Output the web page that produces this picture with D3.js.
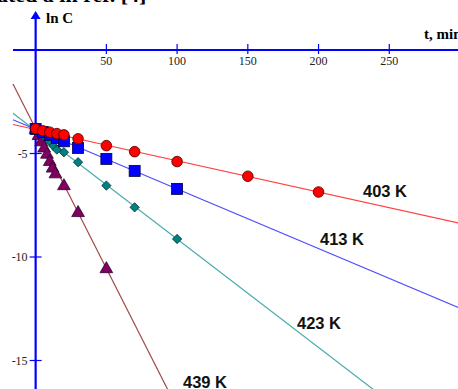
<!DOCTYPE html>
<html>
<head>
<meta charset="utf-8">
<script src="https://cdn.jsdelivr.net/npm/d3@7"></script>
<style>
  body { margin: 0; background: #fff; }
  svg { display: block; }
</style>
</head>
<body>
<div id="chart"></div>
<script>
var width = 458;
var height = 389;

// data
const series = ["403 K", "413 K", "423 K", "439 K"];

const t403 = [0, 5, 10, 15, 20, 30, 50, 70, 100, 150, 200];
const lnC403 = [-3.8, -3.9, -3.97, -4.04, -4.1, -4.29, -4.62, -4.91, -5.39, -6.1, -6.86];

const t413 = [0, 5, 10, 15, 20, 30, 50, 70, 100];
const lnC413 = [-3.82, -3.96, -4.1, -4.25, -4.41, -4.73, -5.26, -5.84, -6.71];

const t423 = [0, 2.5, 5, 7.5, 10, 12.5, 15, 20, 30, 50, 70, 100];
const lnC423 = [-3.85, -3.92, -4.07, -4.26, -4.42, -4.63, -4.81, -4.94, -5.42, -6.55, -7.6, -9.13];

const t439 = [0, 2, 4, 6, 8, 10, 12, 14, 20, 30, 50];
const lnC439 = [-3.85, -4.15, -4.45, -4.75, -5.05, -5.4, -5.72, -6.0, -6.57, -7.87, -10.58];

// fitted straight lines: ln C = a + b t
const fitA = [-3.84, -3.83, -3.89, -3.8];
const fitB = [-0.0151, -0.0288, -0.0524, -0.135];

const xTicks = [50, 100, 150, 200, 250];
const yTicks = [-5, -10, -15];

var svg = d3.select("#chart")
  .append("svg")
  .attr("width", width)
  .attr("height", height)

const x = d3.scaleLinear().domain([-16, 300]).range([13, 460]);
const y = d3.scaleLinear().domain([0, -15]).range([50, 360.5]);

const axisColor = "#0000ff";
const lineColors = ["#ff4040", "#4d4dff", "#4aabab", "#a04848"];
const markFill = ["#ff0000", "#0000ff", "#008080", "#800060"];

// caption fragment cut at the top
svg.append("text")
  .attr("x", -3)
  .attr("y", 2)
  .style("font-family", "Liberation Serif, serif")
  .style("font-size", "22px")
  .style("font-weight", "bold")
  .style("fill", "#000")
  .text("ated a in ref. [4]")

// fitted lines
const tLine = [-16, 300];
lineColors.forEach(function (c, i) {
  svg.append("line")
    .attr("x1", x(tLine[0]))
    .attr("y1", y(fitA[i] + fitB[i] * tLine[0]))
    .attr("x2", x(tLine[1]))
    .attr("y2", y(fitA[i] + fitB[i] * tLine[1]))
    .attr("stroke", c)
    .attr("stroke-width", 1.2)
})

// axes
const x0 = x(0), y0 = y(0);

svg.append("line")
  .attr("x1", x(-16)).attr("x2", width)
  .attr("y1", y0).attr("y2", y0)
  .attr("stroke", axisColor).attr("stroke-width", 2)

svg.append("line")
  .attr("x1", x0).attr("x2", x0)
  .attr("y1", 17).attr("y2", height)
  .attr("stroke", axisColor).attr("stroke-width", 2.2)

svg.append("path")
  .attr("d", `M${x0},11 L${x0 - 5},19 L${x0 + 5},19 Z`)
  .attr("fill", axisColor)

svg.selectAll(".xtick")
  .data(xTicks)
  .join("line")
    .attr("x1", d => x(d)).attr("x2", d => x(d))
    .attr("y1", y0 - 6).attr("y2", y0 + 4)
    .attr("stroke", axisColor).attr("stroke-width", 1.2)

svg.selectAll(".xlab")
  .data(xTicks)
  .join("text")
    .attr("x", d => x(d))
    .attr("y", y0 + 15)
    .attr("text-anchor", "middle")
    .style("font-family", "Liberation Serif, serif")
    .style("font-size", "12px")
    .style("fill", "#222")
    .text(d => d)

svg.selectAll(".ytick")
  .data(yTicks)
  .join("line")
    .attr("x1", x0 - 6).attr("x2", x0 + 6)
    .attr("y1", d => y(d)).attr("y2", d => y(d))
    .attr("stroke", axisColor).attr("stroke-width", 1.2)

svg.selectAll(".ylab")
  .data(yTicks)
  .join("text")
    .attr("x", x0 - 8)
    .attr("y", d => y(d) + 4)
    .attr("text-anchor", "end")
    .style("font-family", "Liberation Serif, serif")
    .style("font-size", "12px")
    .style("fill", "#222")
    .text(d => d)

svg.append("text")
  .attr("x", 46).attr("y", 23)
  .style("font-family", "Liberation Serif, serif")
  .style("font-size", "15px")
  .style("font-weight", "bold")
  .text("ln C")

svg.append("text")
  .attr("x", 424).attr("y", 39)
  .style("font-family", "Liberation Serif, serif")
  .style("font-size", "15px")
  .style("font-weight", "bold")
  .text("t, min")

// markers
const pts = (ts, vs) => ts.map((t, i) => ({ t: t, v: vs[i] }));

svg.selectAll(".m439")
  .data(pts(t439, lnC439))
  .join("path")
    .attr("d", d3.symbol(d3.symbolTriangle, 70))
    .attr("transform", d => `translate(${x(d.t)},${y(d.v)})`)
    .attr("fill", markFill[3]).attr("stroke", "#300030").attr("stroke-width", 0.8)

svg.selectAll(".m423")
  .data(pts(t423, lnC423))
  .join("path")
    .attr("d", d3.symbol(d3.symbolDiamond2, 55))
    .attr("transform", d => `translate(${x(d.t)},${y(d.v)})`)
    .attr("fill", markFill[2]).attr("stroke", "#003030").attr("stroke-width", 0.8)

svg.selectAll(".m413")
  .data(pts(t413, lnC413))
  .join("rect")
    .attr("x", d => x(d.t) - 5.5).attr("y", d => y(d.v) - 5.5)
    .attr("width", 11).attr("height", 11)
    .attr("fill", markFill[1]).attr("stroke", "#000040").attr("stroke-width", 0.8)

svg.selectAll(".m403")
  .data(pts(t403, lnC403))
  .join("circle")
    .attr("cx", d => x(d.t)).attr("cy", d => y(d.v))
    .attr("r", 5.3)
    .attr("fill", markFill[0]).attr("stroke", "#400000").attr("stroke-width", 0.8)

// series labels
const labelPos = [[363, 197], [320, 245], [297, 329], [183, 388]];
series.forEach(function (s, i) {
  svg.append("text")
    .attr("x", labelPos[i][0]).attr("y", labelPos[i][1])
    .style("font-family", "Liberation Sans, Arial, sans-serif")
    .style("font-size", "16.5px")
    .style("font-weight", "bold")
    .style("fill", "#111")
    .text(s)
})
</script>
</body>
</html>
